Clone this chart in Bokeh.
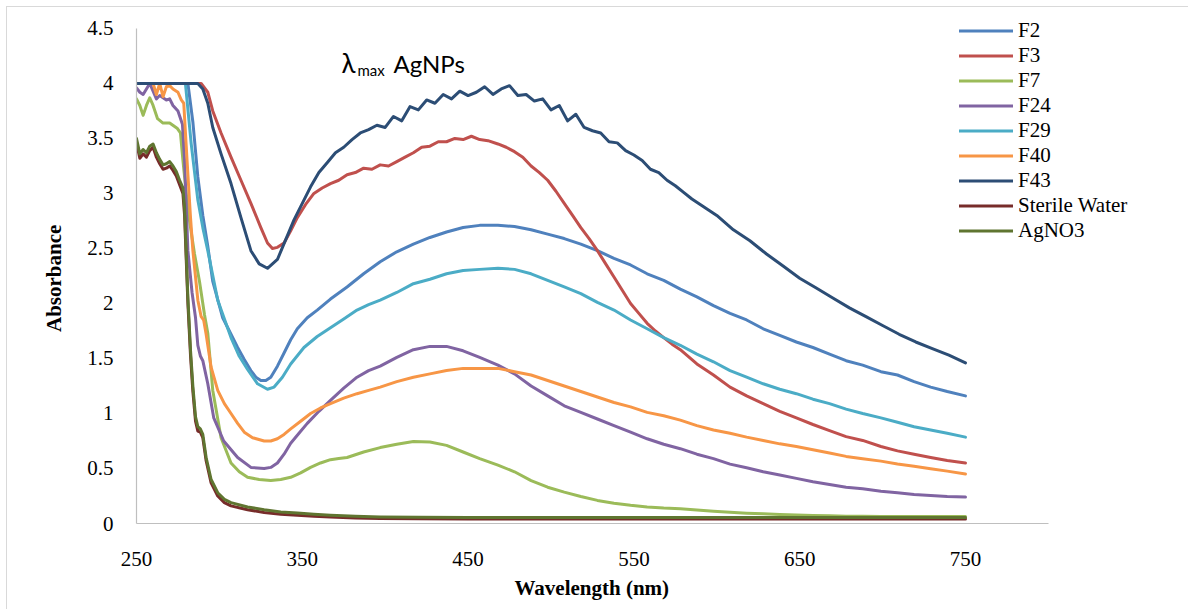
from bokeh.plotting import figure
from bokeh.models import (Range1d, FixedTicker, CustomJSTickFormatter, Label, Legend,
                          LegendItem, Title)
from bokeh.embed import file_html
from bokeh.resources import INLINE

# ---------------- data ----------------
RIGHT_WL = [407, 417, 427, 437, 447, 457, 468, 478, 488, 498,
            508, 518, 528, 538, 548, 558, 568, 578, 588, 598,
            608, 618, 628, 638, 648, 658, 668, 678, 688, 699,
            709, 719, 729, 739, 750]

F2_WL = [250, 281, 284, 287, 290, 293, 296,
         302, 307, 311, 315, 319, 322, 325, 328, 331, 335,
         339, 343, 347, 353, 359, 367, 377, 387, 397,
         407, 417, 427, 437, 447, 457, 468, 478, 488, 498,
         508, 518, 528, 538, 548, 558, 568, 578, 588, 598,
         608, 618, 628, 638, 648, 658, 668, 678, 688, 699,
         709, 719, 729, 739, 750]
F2_ABS = [4.0, 4.0, 3.65, 3.15, 2.8, 2.52, 2.2,
          1.87, 1.72, 1.60, 1.49, 1.39, 1.33, 1.30, 1.30, 1.33, 1.43,
          1.55, 1.67, 1.77, 1.87, 1.94, 2.04, 2.15, 2.27, 2.38,
          2.47, 2.54, 2.60, 2.65, 2.69, 2.71, 2.71, 2.70, 2.67, 2.63,
          2.59, 2.54, 2.48, 2.41, 2.35, 2.27, 2.21, 2.13, 2.06, 1.98,
          1.91, 1.85, 1.77, 1.71, 1.65, 1.60, 1.54, 1.48, 1.44, 1.38,
          1.35, 1.29, 1.24, 1.20, 1.16]

F3_WL = [250, 289, 293, 296, 301, 307, 313, 319, 325, 329,
         332, 335, 339, 343, 347, 352, 357, 362, 367, 372,
         377, 382, 387, 392, 397, 402, 407, 412, 417, 422,
         427, 432, 437, 442, 447, 452, 457, 462, 468, 473,
         478, 483, 488, 493, 498, 503, 508, 513, 518, 523,
         528, 533, 538, 543, 548, 553, 558, 563, 568, 573,
         578, 588, 598, 608, 618, 628, 638, 648, 658, 668,
         678, 688, 699, 709, 719, 729, 739, 750]
F3_ABS = [4.0, 4.0, 3.92, 3.75, 3.55, 3.33, 3.12, 2.91, 2.69, 2.55,
          2.50, 2.51, 2.55, 2.66, 2.78, 2.90, 3.00, 3.05, 3.09, 3.12,
          3.17, 3.19, 3.23, 3.22, 3.26, 3.25, 3.29, 3.33, 3.37, 3.42,
          3.43, 3.47, 3.47, 3.50, 3.49, 3.52, 3.49, 3.48, 3.45, 3.42,
          3.38, 3.33, 3.25, 3.19, 3.12, 3.02, 2.91, 2.80, 2.69, 2.59,
          2.48, 2.36, 2.24, 2.12, 2.00, 1.91, 1.82, 1.75, 1.69, 1.63,
          1.58, 1.45, 1.35, 1.24, 1.16, 1.09, 1.02, 0.96, 0.90, 0.845,
          0.79, 0.755, 0.70, 0.66, 0.63, 0.60, 0.573, 0.55]

F7_WL = [250, 252, 254, 256, 258, 260, 262.7, 266, 270, 274.7,
         276.5, 278, 280, 282, 285, 288, 291, 293, 296, 301,
         307, 312, 317, 324, 331, 337, 343, 349, 355, 361,
         367, 372, 377, 387, 397] + RIGHT_WL
F7_ABS = [3.86, 3.80, 3.71, 3.80, 3.87, 3.80, 3.68, 3.64, 3.64, 3.59,
          3.55, 3.3, 3.0, 2.75, 2.45, 2.2, 1.9, 1.73, 1.21, 0.78,
          0.55, 0.47, 0.42, 0.40, 0.39, 0.40, 0.42, 0.46, 0.51, 0.55,
          0.58, 0.59, 0.60, 0.65, 0.69,
          0.72, 0.745, 0.74, 0.71, 0.65, 0.59, 0.53, 0.47, 0.39, 0.33,
          0.285, 0.245, 0.21, 0.185, 0.165, 0.15, 0.14, 0.135, 0.122, 0.112,
          0.103, 0.094, 0.088, 0.082, 0.077, 0.073, 0.07, 0.067, 0.065, 0.064,
          0.064, 0.064, 0.064, 0.064, 0.064]

F24_WL = [250, 252, 254, 256, 258, 260, 262, 264, 266, 268,
          270, 272, 275, 277.7, 279, 281, 283.5, 285.6, 287, 288.6,
          290, 293, 296.6, 302.6, 311, 319, 327, 331, 335, 339,
          343, 348, 353, 360, 367, 375, 383, 390, 397] + RIGHT_WL
F24_ABS = [3.96, 3.92, 3.90, 3.95, 4.0, 3.93, 3.86, 3.89, 3.87, 3.85,
           3.86, 3.80, 3.75, 3.63, 3.3, 2.48, 2.1, 1.87, 1.62, 1.52,
           1.48, 1.27, 0.96, 0.75, 0.60, 0.51, 0.50, 0.51, 0.55, 0.63,
           0.73, 0.82, 0.91, 1.02, 1.12, 1.23, 1.33, 1.39, 1.43,
           1.51, 1.58, 1.61, 1.61, 1.57, 1.51, 1.44, 1.36, 1.25, 1.16,
           1.07, 1.01, 0.95, 0.89, 0.83, 0.77, 0.72, 0.68, 0.63, 0.59,
           0.54, 0.506, 0.47, 0.44, 0.41, 0.38, 0.355, 0.33, 0.315, 0.294,
           0.28, 0.264, 0.255, 0.245, 0.24]

F29_WL = [250, 279.5, 283, 287, 290, 293, 299,
          307, 312, 317, 323, 329, 333, 338, 343, 351, 359,
          367, 375, 383, 390, 397] + RIGHT_WL
F29_ABS = [4.0, 4.0, 3.45, 2.94, 2.69, 2.48, 2.03,
           1.69, 1.52, 1.40, 1.27, 1.22, 1.24, 1.33, 1.45, 1.60, 1.70,
           1.78, 1.86, 1.94, 1.99, 2.03,
           2.10, 2.18, 2.22, 2.27, 2.30, 2.31, 2.32, 2.31, 2.27, 2.21,
           2.15, 2.09, 2.01, 1.94, 1.85, 1.77, 1.69, 1.62, 1.54, 1.47,
           1.39, 1.33, 1.27, 1.22, 1.18, 1.13, 1.09, 1.04, 1.00, 0.96,
           0.92, 0.88, 0.85, 0.82, 0.785]

F40_WL = [250, 260, 262, 264, 266, 268, 270, 272, 275, 277,
          278.5, 280.5, 282.5, 284, 287, 289, 290.5, 292, 295, 299,
          303, 307, 311, 315, 320, 327, 331, 335, 339, 343,
          349, 355, 361, 367, 375, 383, 390, 397] + RIGHT_WL
F40_ABS = [4.0, 4.0, 3.9, 4.0, 3.88, 3.97, 3.98, 3.95, 3.92, 3.85,
           3.82, 3.3, 2.8, 2.48, 2.03, 1.88, 1.85, 1.72, 1.42, 1.21,
           1.09, 1.0, 0.91, 0.83, 0.78, 0.75, 0.75, 0.77, 0.81, 0.86,
           0.93, 1.0, 1.05, 1.09, 1.14, 1.18, 1.21, 1.24,
           1.29, 1.33, 1.36, 1.39, 1.41, 1.41, 1.41, 1.38, 1.35, 1.30,
           1.25, 1.20, 1.15, 1.10, 1.06, 1.01, 0.98, 0.94, 0.89, 0.85,
           0.82, 0.785, 0.755, 0.724, 0.70, 0.67, 0.64, 0.61, 0.588, 0.567,
           0.54, 0.52, 0.497, 0.476, 0.45]

F43_WL = [250, 287, 290, 293, 296, 301, 307, 313, 319, 324, 329, 335,
          340, 345, 350, 355, 360, 365, 370, 375, 380, 385,
          390, 395, 400, 405, 410, 415, 420, 425, 430, 435,
          440, 445, 450, 455, 460, 465, 470, 475, 480, 485,
          490, 495, 500, 505, 510, 515, 520, 525, 530, 535,
          540, 545, 550, 555, 560, 565, 570, 575, 580, 585,
          590, 595, 600,
          610, 620, 630, 640, 650, 660, 670, 680, 690, 700,
          710, 720, 730, 740, 750]
F43_ABS = [4.0, 4.0, 3.95, 3.82, 3.6, 3.36, 3.09, 2.78, 2.48, 2.36, 2.32, 2.40,
           2.58, 2.76, 2.91, 3.06, 3.19, 3.28, 3.37, 3.42, 3.49, 3.55,
           3.58, 3.62, 3.60, 3.70, 3.66, 3.79, 3.76, 3.85, 3.82, 3.90,
           3.86, 3.93, 3.89, 3.92, 3.97, 3.90, 3.95, 3.98, 3.89, 3.90,
           3.84, 3.86, 3.76, 3.80, 3.66, 3.72, 3.60, 3.57, 3.55, 3.47,
           3.46, 3.39, 3.35, 3.30, 3.22, 3.19, 3.12, 3.07, 3.01, 2.95,
           2.90, 2.85, 2.80,
           2.67, 2.57, 2.45, 2.34, 2.23, 2.14, 2.05, 1.96, 1.88, 1.80,
           1.72, 1.65, 1.59, 1.53, 1.46]

BLANK_WL = [250, 252, 254, 256, 258, 260, 262, 264, 266, 268,
            270, 272, 274, 276, 278,
            279, 280, 281, 282.6, 284, 285.6, 287, 288.5, 290, 292,
            295, 299, 303, 307, 317, 327, 337, 347, 357, 367,
            382, 397, 420, 450, 500, 550, 600, 650, 700, 750]
WATER_ABS = [3.46, 3.32, 3.36, 3.33, 3.39, 3.42, 3.33, 3.27, 3.22, 3.23,
             3.25, 3.21, 3.16, 3.08, 3.0,
             2.8, 2.4, 2.0, 1.52, 1.2, 0.93, 0.84, 0.83, 0.78, 0.57,
             0.37, 0.25, 0.19, 0.16, 0.125, 0.10, 0.085, 0.075, 0.065, 0.058,
             0.05, 0.046, 0.043, 0.042, 0.041, 0.041, 0.041, 0.042, 0.042, 0.042]
AGNO3_ABS = [3.50, 3.36, 3.40, 3.37, 3.43, 3.45, 3.37, 3.31, 3.26, 3.27,
             3.29, 3.25, 3.20, 3.12, 3.05,
             2.87, 2.45, 2.05, 1.57, 1.25, 0.97, 0.88, 0.86, 0.81, 0.60,
             0.40, 0.28, 0.22, 0.19, 0.15, 0.125, 0.105, 0.095, 0.085, 0.075,
             0.065, 0.06, 0.057, 0.055, 0.054, 0.054, 0.054, 0.055, 0.055, 0.055]

SERIES_NAMES = ["F2", "F3", "F7", "F24", "F29", "F40", "F43", "Sterile Water", "AgNO3"]
SERIES_WL = [F2_WL, F3_WL, F7_WL, F24_WL, F29_WL, F40_WL, F43_WL, BLANK_WL, BLANK_WL]
SERIES_ABS = [F2_ABS, F3_ABS, F7_ABS, F24_ABS, F29_ABS, F40_ABS, F43_ABS, WATER_ABS, AGNO3_ABS]
COLORS = ["#4F81BD", "#C0504D", "#9BBB59", "#8064A2", "#4BACC6", "#F79646",
          "#2C4D75", "#772C2A", "#5F7530"]

X_TICKS = [250, 350, 450, 550, 650, 750]
Y_TICKS = [0, 0.5, 1, 1.5, 2, 2.5, 3, 3.5, 4, 4.5]
X_AXIS_BOUNDS = (250, 800)
Y_AXIS_BOUNDS = (0, 4.5)

for n, w, a in zip(SERIES_NAMES, SERIES_WL, SERIES_ABS):
    assert len(w) == len(a), (n, len(w), len(a))

# ---------------- figure ----------------
SERIF = "Liberation Serif"
# frame: left 136, right 1150, top 12, bottom 523 (page px); axes drawn only on their bounds
p = figure(width=1188, height=609,
           x_range=Range1d(250, 861.6), y_range=Range1d(0, 4.645),
           output_backend="svg", toolbar_location=None,
           min_border_left=136, min_border_right=38,
           min_border_top=12, min_border_bottom=86)
# thin light-grey chart-area edge (left and top) drawn as the page background
p.styles = {"background": ("linear-gradient(#D9D9D9, #D9D9D9) 6px 6px / 1px 100% no-repeat, "
                           "linear-gradient(#D9D9D9, #D9D9D9) 6px 6px / 100% 1px no-repeat, "
                           "#FFFFFF")}
p.border_fill_alpha = 0
p.outline_line_color = None
p.xgrid.visible = False
p.ygrid.visible = False
p.background_fill_color = "white"

for ax in (p.xaxis[0], p.yaxis[0]):
    ax.axis_line_color = "#BFBFBF"
    ax.axis_line_width = 1.2
    ax.major_tick_line_color = None
    ax.minor_tick_line_color = None
    ax.major_tick_in = 0
    ax.major_tick_out = 0
    ax.minor_tick_in = 0
    ax.minor_tick_out = 0
    ax.major_label_text_font = SERIF
    ax.major_label_text_font_size = "21px"
    ax.major_label_text_color = "black"

p.xaxis.bounds = X_AXIS_BOUNDS
p.yaxis.bounds = Y_AXIS_BOUNDS
p.xaxis.ticker = FixedTicker(ticks=X_TICKS)
p.yaxis.ticker = FixedTicker(ticks=Y_TICKS)
p.yaxis.formatter = CustomJSTickFormatter(code="return tick.toString();")
p.xaxis.major_label_standoff = 28
p.yaxis.major_label_standoff = 23

# axis titles, centred on the drawn axis extents (not the wider frame)
p.add_layout(Title(text="Wavelength (nm)", align="left", offset=378, standoff=14,
                   vertical_align="top",
                   text_font=SERIF, text_font_size="21px", text_font_style="bold",
                   text_color="black"), "below")
p.add_layout(Title(text="Absorbance", align="left", offset=191.5, standoff=38,
                   text_font=SERIF, text_font_size="21px", text_font_style="bold",
                   text_color="black"), "left")

items = []
for name, wl, ab, col in zip(SERIES_NAMES, SERIES_WL, SERIES_ABS, COLORS):
    r = p.line(wl, ab, line_color=col, line_width=3, line_join="round", line_cap="round")
    items.append(LegendItem(label=name, renderers=[r]))

legend = Legend(items=items, location=(823, 280),
                label_text_font=SERIF, label_text_font_size="21px",
                label_text_color="black",
                glyph_width=54, glyph_height=25, label_height=25,
                label_standoff=5, spacing=0, padding=0, margin=0,
                border_line_color=None, background_fill_alpha=0)
p.add_layout(legend)

# title  "λmax AgNPs"
TITLE_FONT = "Lato"
p.add_layout(Label(x=373.6, y=4.182, text="λ", text_font=TITLE_FONT,
                   text_font_size="26px", text_color="black", text_baseline="alphabetic"))
p.add_layout(Label(x=383.3, y=4.118, text="max", text_font=TITLE_FONT,
                   text_font_size="15px", text_color="black", text_baseline="alphabetic"))
p.add_layout(Label(x=405.0, y=4.182, text="AgNPs", text_font=TITLE_FONT,
                   text_font_size="24px", text_color="black", text_baseline="alphabetic"))

open("out.html", "w").write(file_html(p, INLINE))
